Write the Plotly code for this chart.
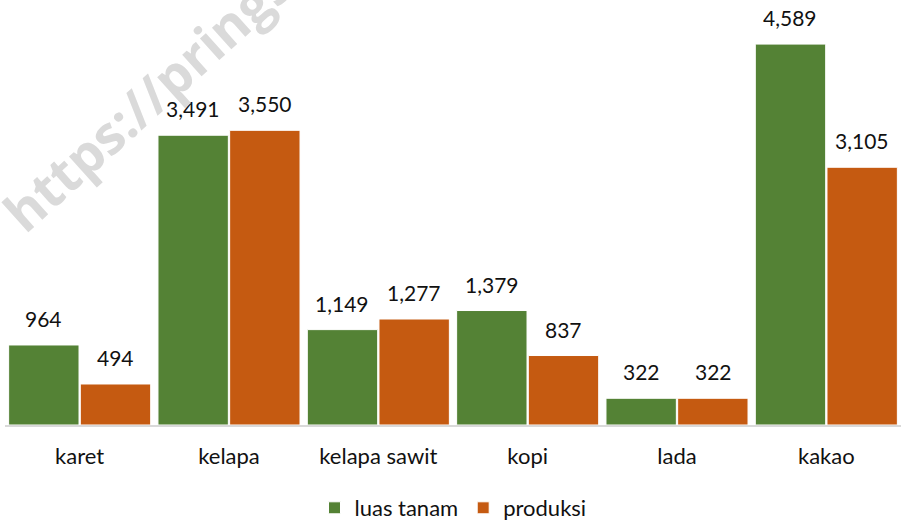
import plotly.graph_objects as go

categories = ["karet", "kelapa", "kelapa sawit", "kopi", "lada", "kakao"]
luas_tanam = [964, 3491, 1149, 1379, 322, 4589]
produksi = [494, 3550, 1277, 837, 322, 3105]
series_names = ["luas tanam", "produksi"]
colors = ["#548235", "#C55A11"]

FONT = "Lato"
W, H = 901, 521
l, r, t, b = 5, 0, 0, 96
pw, ph = W - l - r, H - t - b

fig = go.Figure()
for name, vals, col in zip(series_names, [luas_tanam, produksi], colors):
    fig.add_trace(go.Bar(
        x=categories, y=vals, name=name,
        marker=dict(color=col, line=dict(color="#FFFFFF", width=1)),
    ))

annotations = []
for vals, shift in zip([luas_tanam, produksi], [-36, 36]):
    for c, v in zip(categories, vals):
        annotations.append(dict(
            x=c, y=v, xref="x", yref="y", text=f"{v:,}", showarrow=False,
            xshift=shift, yshift=12, yanchor="bottom", xanchor="center",
            font=dict(family=FONT, size=21, color="#111111"),
        ))

# watermark (pixel centre -> paper coords)
wm_cx, wm_cy = 318, -57
annotations.append(dict(
    x=(wm_cx - l) / pw, y=(H - b - wm_cy) / ph, xref="paper", yref="paper",
    text="<b>https://pringsewukab.bps.go.id</b>",
    showarrow=False, textangle=-42, xanchor="center", yanchor="middle",
    font=dict(family="Open Sans", size=53, color="#DADADA"),
))

fig.update_layout(
    width=W, height=H,
    margin=dict(l=l, r=r, t=t, b=b, autoexpand=False),
    paper_bgcolor="white", plot_bgcolor="white",
    barmode="group", bargap=0.04, bargroupgap=0.018,
    font=dict(family=FONT, size=22, color="#111111"),
    xaxis=dict(showline=True, linecolor="#D9D9D9", linewidth=1.5, ticks="",
               tickfont=dict(family=FONT, size=22, color="#111111"),
               ticklabelstandoff=11, showgrid=False, automargin=False),
    yaxis=dict(visible=False, range=[0, 5120], showgrid=False),
    legend=dict(orientation="h", x=0.5, xanchor="center",
                yref="container", y=(H - 508) / H, yanchor="middle",
                itemwidth=30,
                font=dict(family=FONT, size=22, color="#111111"), traceorder="normal"),
    annotations=annotations,
    showlegend=True,
)
fig.write_html("out.html", config={"displayModeBar": False},
               post_script="document.body.style.margin='0';document.body.style.overflow='hidden';")
